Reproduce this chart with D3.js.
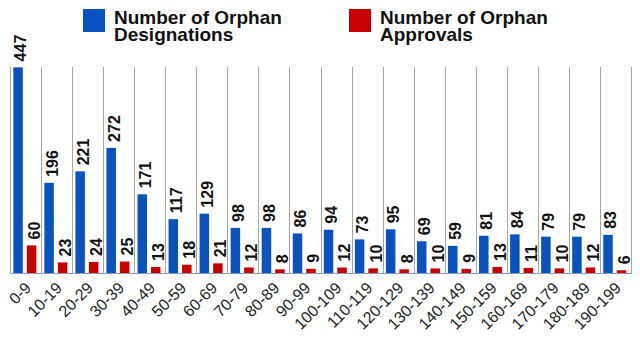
<!DOCTYPE html>
<html><head><meta charset="utf-8">
<script src="https://cdn.jsdelivr.net/npm/d3@7"></script>
<style>body{margin:0;background:#fff}svg{display:block}</style>
</head><body>
<script>
const categories = ["0-9","10-19","20-29","30-39","40-49","50-59","60-69","70-79","80-89","90-99","100-109","110-119","120-129","130-139","140-149","150-159","160-169","170-179","180-189","190-199"];
const designations = [447,196,221,272,171,117,129,98,98,86,94,73,95,69,59,81,84,79,79,83];
const approvals = [60,23,24,25,13,18,21,12,8,9,12,10,8,10,9,13,11,10,12,6];
const seriesNames = ["Number of Orphan Designations","Number of Orphan Approvals"];
const legendLines = [["Number of Orphan","Designations"],["Number of Orphan","Approvals"]];
const colors = ["#0a52be","#c80000"];

(function(){
const W=640,H=344;
const svg=d3.select("body").append("svg").attr("width",W).attr("height",H);
const pLeft=10,pRight=631,pTop=66,base=273;
const x=d3.scaleBand().domain(categories).range([pLeft,pRight]).padding(0);
const y=d3.scaleLinear().domain([0,450]).range([base,pTop]);

const bounds=categories.map(c=>x(c)).concat([pRight]);
svg.append("g").selectAll("line").data(bounds).join("line")
  .attr("x1",d=>Math.round(d)+0.5).attr("x2",d=>Math.round(d)+0.5).attr("y1",pTop+1).attr("y2",base)
  .attr("stroke","#a6a6a6").attr("stroke-width",1);

const barW=9.5;
const offs=[3.3,16.8];
[designations,approvals].forEach((vals,si)=>{
  const g=svg.append("g");
  g.selectAll("rect").data(vals).join("rect")
    .attr("x",(d,i)=>x(categories[i])+offs[si])
    .attr("width",barW)
    .attr("y",d=>y(d)).attr("height",d=>base-y(d))
    .attr("fill",colors[si]);
  g.selectAll("text").data(vals).join("text")
    .attr("transform",(d,i)=>{const cx=x(categories[i])+offs[si]+barW/2;return `translate(${cx+8.4},${y(d)-6}) rotate(-90)`;})
    .attr("font-family","Liberation Sans, Arial, sans-serif")
    .attr("font-weight","bold").attr("font-size",16).attr("fill","#111")
    .text(d=>d);
});

svg.append("line").attr("x1",pLeft).attr("x2",pRight+1).attr("y1",base+0.5).attr("y2",base+0.5)
  .attr("stroke","#8a9ab8").attr("stroke-width",1.2);

const xAxis=d3.axisBottom(x).tickSize(0).tickPadding(0);
const ax=svg.append("g").attr("transform",`translate(0,${base})`).call(xAxis);
ax.select(".domain").remove();
ax.selectAll("text")
  .attr("font-family","Liberation Sans, Arial, sans-serif").attr("font-size",16).attr("fill","#222")
  .attr("text-anchor","end").attr("dy",null).attr("y",null)
  .attr("transform","translate(6.5,16) rotate(-45)");

const legX=[83,349];
legendLines.forEach((lines,i)=>{
  svg.append("rect").attr("x",legX[i]).attr("y",9).attr("width",22).attr("height",23).attr("fill",colors[i]);
  lines.forEach((s,j)=>svg.append("text").attr("x",legX[i]+31).attr("y",23.5+j*17.5)
    .attr("font-family","Liberation Sans, Arial, sans-serif").attr("font-weight","bold").attr("font-size",19).attr("fill","#111")
    .text(s));
});
})();
</script>
</body></html>
